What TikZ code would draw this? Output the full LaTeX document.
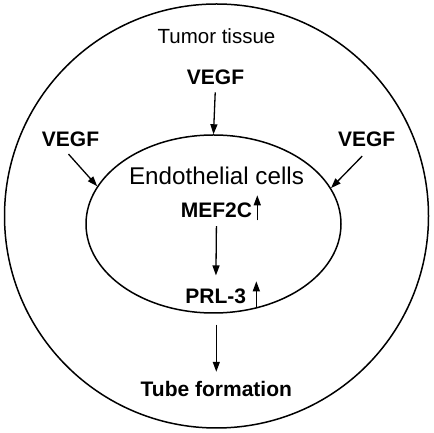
\documentclass[tikz,border=0pt]{standalone}
\usepackage{fontspec}
\setmainfont{Liberation Sans}
\usetikzlibrary{arrows.meta,shapes.geometric}

\begin{document}
\begin{tikzpicture}[x=1pt,y=1pt,>={Triangle[length=10pt,width=7pt]}]
  \tikzset{
    factor/.style={font=\fontsize{21}{25}\selectfont\bfseries,inner sep=0pt,anchor=base},
    plain/.style={font=\fontsize{20.5}{25}\selectfont,inner sep=0pt,anchor=base},
    flow/.style={line width=1.3pt,->},
    rim/.style={draw,line width=1.5pt,inner sep=0pt}
  }
  \useasboundingbox (0,0) rectangle (433,433);
  % compartments
  \node[rim,circle,minimum size=424pt] (tissue) at (216.5,217) {};
  \node[rim,ellipse,minimum width=255pt,minimum height=178pt] (cell) at (213.5,209) {};
  % texts
  \node[plain] (tumor) at (216.5,389.7) {Tumor tissue};
  \node[factor] (vegfTop) at (215.5,348) {VEGF};
  \node[factor] (vegfLeft) at (70.5,286.3) {VEGF};
  \node[factor] (vegfRight) at (366.7,286.3) {VEGF};
  \node[plain,font=\fontsize{24.2}{29}\selectfont] (endo) at (216.5,248) {Endothelial cells};
  \node[factor] (mef) at (216.5,215.7) {MEF2C};
  \node[factor] (prl) at (215.8,129.7) {PRL-3};
  \node[factor] (tube) at (216.3,36.3) {Tube formation};
  % signalling
  \draw[flow,shorten <=7pt] (vegfTop.south) -- (cell.north);
  \draw[flow] ([shift={(-2pt,-7pt)}]vegfLeft.south) -- (cell.162);
  \draw[flow] ([shift={(-4.5pt,-9pt)}]vegfRight.south) -- (cell.17);
  \draw[flow,shorten <=8.5pt,shorten >=13pt] (mef.south) -- (prl.north);
  \draw[flow,shorten <=11pt,shorten >=9.5pt] (cell.south -| tube.north) -- (tube.north);
  % up-regulation marks
  \coordinate (mefUp) at ([shift={(5pt,-3pt)}]mef.base east);
  \coordinate (prlUp) at ([shift={(10pt,-4pt)}]prl.base east);
  \draw[flow] (mefUp) -- ++(0,25);
  \draw[flow] (prlUp) -- ++(0,26);
\end{tikzpicture}
\end{document}
